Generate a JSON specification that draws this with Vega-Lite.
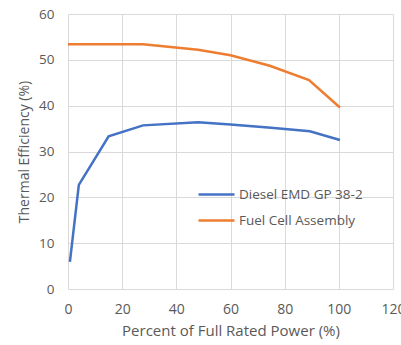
{
  "$schema": "https://vega.github.io/schema/vega-lite/v6.json",
  "width": 325,
  "height": 275,
  "autosize": {"type": "none"},
  "padding": {"left": 68, "top": 14, "right": 8, "bottom": 56},
  "background": "white",
  "config": {
    "view": {"stroke": null},
    "font": "Open Sans",
    "axis": {"gridColor": "#d9d9d9", "gridWidth": 1, "domain": false, "ticks": false, "labelColor": "#595959", "titleColor": "#595959", "labelFontSize": 13.5, "titleFontSize": 14, "titleFontWeight": "normal", "labelFont": "Open Sans", "titleFont": "Open Sans", "labelFlush": false}
  },
  "data": {"values": [
    {"power": 0.7, "eff": 5.9, "series": "Diesel EMD GP 38-2"},
    {"power": 4, "eff": 22.7, "series": "Diesel EMD GP 38-2"},
    {"power": 15, "eff": 33.3, "series": "Diesel EMD GP 38-2"},
    {"power": 27.7, "eff": 35.7, "series": "Diesel EMD GP 38-2"},
    {"power": 48, "eff": 36.4, "series": "Diesel EMD GP 38-2"},
    {"power": 60, "eff": 35.9, "series": "Diesel EMD GP 38-2"},
    {"power": 75, "eff": 35.2, "series": "Diesel EMD GP 38-2"},
    {"power": 89.3, "eff": 34.4, "series": "Diesel EMD GP 38-2"},
    {"power": 100.4, "eff": 32.5, "series": "Diesel EMD GP 38-2"},
    {"power": 0, "eff": 53.4, "series": "Fuel Cell Assembly"},
    {"power": 27.7, "eff": 53.4, "series": "Fuel Cell Assembly"},
    {"power": 48, "eff": 52.2, "series": "Fuel Cell Assembly"},
    {"power": 60, "eff": 51.0, "series": "Fuel Cell Assembly"},
    {"power": 74.5, "eff": 48.7, "series": "Fuel Cell Assembly"},
    {"power": 89, "eff": 45.6, "series": "Fuel Cell Assembly"},
    {"power": 100.4, "eff": 39.6, "series": "Fuel Cell Assembly"}
  ]},
  "mark": {"type": "line", "strokeWidth": 2.5, "clip": false},
  "encoding": {
    "x": {"field": "power", "type": "quantitative", "scale": {"domain": [0, 120], "nice": false}, "axis": {"values": [0, 20, 40, 60, 80, 100, 120], "title": "Percent of Full Rated Power (%)", "labelFontSize": 14, "titleFontSize": 15, "labelPadding": 13, "titlePadding": 7}},
    "y": {"field": "eff", "type": "quantitative", "scale": {"domain": [0, 60], "nice": false}, "axis": {"values": [0, 10, 20, 30, 40, 50, 60], "title": "Thermal Efficiency (%)", "labelPadding": 14, "titlePadding": 7}},
    "color": {"field": "series", "type": "nominal", "scale": {"domain": ["Diesel EMD GP 38-2", "Fuel Cell Assembly"], "range": ["#4472C4", "#ED7D31"]},
      "legend": {"title": null, "orient": "none", "legendX": 129, "legendY": 161, "padding": 0, "symbolType": "stroke", "symbolSize": 1296, "symbolStrokeWidth": 2.5, "labelFontSize": 13.5, "labelColor": "#595959", "labelOffset": 3, "rowPadding": -7, "labelFont": "Open Sans"}}
  }
}
